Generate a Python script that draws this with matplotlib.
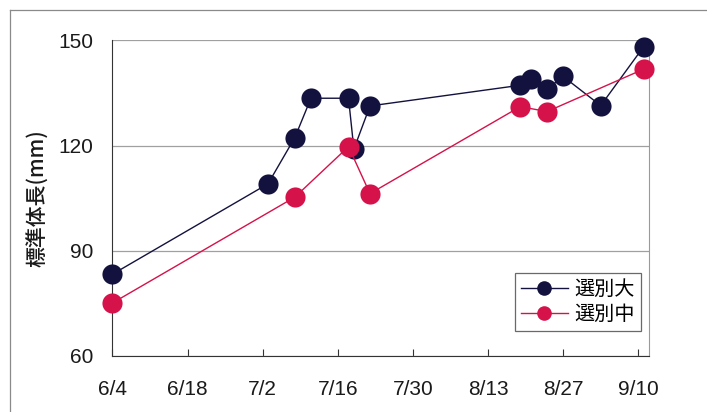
import numpy as np
import pandas as pd
import matplotlib
matplotlib.use("Agg")
import matplotlib.pyplot as plt
from matplotlib.lines import Line2D

plt.rcParams['font.family'] = ['Noto Sans CJK JP', 'DejaVu Sans']

YEAR = 2008

# 選別大
large_dates = ["6/4", "7/3", "7/8", "7/11", "7/18", "7/19", "7/22",
               "8/19", "8/21", "8/24", "8/27", "9/3", "9/11"]
large_len = [83.3, 109.1, 122.3, 133.5, 133.5, 119.0, 131.3,
             137.2, 139.0, 136.1, 139.7, 131.4, 148.2]

# 選別中
mid_dates = ["6/4", "7/8", "7/18", "7/22", "8/19", "8/24", "9/11"]
mid_len = [75.1, 105.3, 119.7, 106.3, 131.1, 129.7, 141.8]

tick_labels = ["6/4", "6/18", "7/2", "7/16", "7/30", "8/13", "8/27", "9/10"]
y_ticks = [60, 90, 120, 150]


def to_dates(md):
    return pd.to_datetime([f"{YEAR}/{s}" for s in md], format="%Y/%m/%d")


navy = "#13123f"
crimson = "#d5124a"

fig = plt.figure(figsize=(7.07, 4.12), dpi=100)
ax = fig.add_axes([0.159, 0.136, 0.759, 0.766])

ax.plot(to_dates(large_dates), large_len, color=navy, lw=1.0, marker="o",
        markersize=14.5, markeredgewidth=0, label="選別大", clip_on=False, zorder=3)
ax.plot(to_dates(mid_dates), mid_len, color=crimson, lw=1.0, marker="o",
        markersize=14.5, markeredgewidth=0, label="選別中", clip_on=False, zorder=4)

ax.set_ylim(60, 150)
ax.set_xlim(pd.Timestamp(f"{YEAR}-06-04"), pd.Timestamp(f"{YEAR}-09-12"))

ax.set_yticks(y_ticks)
ax.set_yticklabels([str(v) for v in y_ticks])
ax.set_xticks(to_dates(tick_labels))
ax.set_xticklabels(tick_labels)

for lab in ax.get_xticklabels() + ax.get_yticklabels():
    lab.set_family(['Liberation Sans', 'DejaVu Sans'])
    lab.set_fontsize(15)
    lab.set_color("#1a1a1a")

ax.tick_params(axis="x", direction="in", length=5, width=0.8, pad=17, colors="#333333")
ax.tick_params(axis="y", length=0, pad=14)
for lab in ax.get_xticklabels() + ax.get_yticklabels():
    lab.set_color("#1a1a1a")

ax.grid(axis="y", color="#a0a0a0", lw=0.9)
ax.set_axisbelow(True)

ax.spines["left"].set_color("#333333")
ax.spines["bottom"].set_color("#333333")
ax.spines["right"].set_color("#9a9a9a")
ax.spines["top"].set_visible(False)

ax.set_ylabel("標準体長(mm)", fontsize=15, fontweight="medium", labelpad=6,
              color="#1a1a1a")

leg = ax.legend(loc="lower right", bbox_to_anchor=(0.985, 0.08), fontsize=14.5,
                frameon=True, fancybox=False, borderpad=0.3, handlelength=2.3,
                handletextpad=0.35, labelspacing=0.2, borderaxespad=0)
leg.get_frame().set_edgecolor("#444444")
leg.get_frame().set_linewidth(0.9)
for h in leg.legend_handles:
    h.set_markersize(10.5)

# outer frame: left and top edges only
fx, fy = 9.5 / 707, 1 - 9.5 / 412
fig.add_artist(Line2D([fx, fx], [0, fy], transform=fig.transFigure,
                      color="#8a8a8a", lw=0.9))
fig.add_artist(Line2D([fx, 1], [fy, fy], transform=fig.transFigure,
                      color="#8a8a8a", lw=0.9))

fig.savefig("out.png", dpi=100)
